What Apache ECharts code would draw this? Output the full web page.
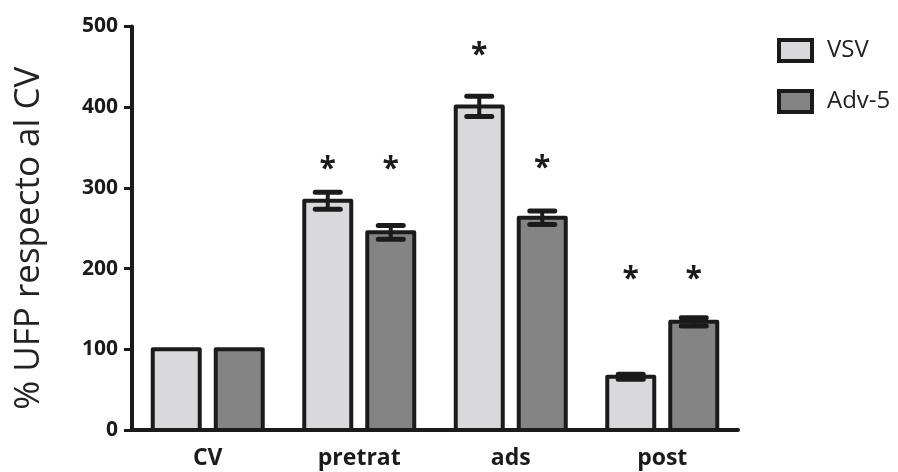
<!DOCTYPE html>
<html>
<head>
<meta charset="utf-8">
<script src="https://cdn.jsdelivr.net/npm/echarts@6/dist/echarts.min.js"></script>
<style>
  html, body { margin: 0; padding: 0; background: #fff; }
  #chart { width: 898px; height: 472px; }
</style>
</head>
<body>
<div id="chart"></div>
<script>
// Groups and measured values (% relative to CV)
const categories = ['CV', 'pretrat', 'ads', 'post'];
const vsvMean = [100, 284, 401, 66];
const vsvErr = [0, 10.5, 12.5, 3];
const advMean = [100, 245, 263, 134];
const advErr = [0, 8.5, 8.5, 5];
// Height (in % units) of the significance asterisks; null = no marker
const vsvSig = [null, 330, 471, 194];
const advSig = [null, 330, 331, 194];
const yTicks = [0, 100, 200, 300, 400, 500];

const ink = '#1b1b1b';
const font = '"Open Sans", "DejaVu Sans", sans-serif';
const vsvColor = '#d9d8da';
const advColor = '#848484';
const BAR_W = 47;      // bar body width; the 4px outline is centred on its edge
const PAIR_GAP = 16;   // space between the two bars of a group
const offset = (BAR_W + PAIR_GAP) / 2;

// Bars drawn with a centred outline so the stroke straddles the value line
function barSeries(name, means, color, dir) {
  return {
    type: 'custom',
    name: name,
    z: 2,
    encode: { x: 0, y: 1 },
    itemStyle: { color: color, borderColor: ink, borderWidth: 4 },
    data: means.map((m, i) => [i, m]),
    renderItem(params, api) {
      const i = api.value(0), m = api.value(1);
      const top = api.coord([i, m]);
      const base = api.coord([i, 0]);
      const cx = top[0] + dir * offset;
      return {
        type: 'rect',
        shape: { x: cx - BAR_W / 2, y: top[1], width: BAR_W, height: base[1] - top[1] },
        style: { fill: color, stroke: ink, lineWidth: 4, lineJoin: 'round' }
      };
    }
  };
}

function errorSeries(means, errs, dir) {
  return {
    type: 'custom',
    z: 5,
    silent: true,
    encode: { x: 0, y: 1 },
    data: means.map((m, i) => [i, m, errs[i]]),
    renderItem(params, api) {
      const i = api.value(0), m = api.value(1), e = api.value(2);
      if (!e) return;
      const x = api.coord([i, m])[0] + dir * offset;
      const yTop = api.coord([i, m + e])[1];
      const yBot = api.coord([i, m - e])[1];
      const half = 12.5;
      return {
        type: 'group',
        children: [
          { type: 'line', shape: { x1: x, y1: yTop, x2: x, y2: yBot },
            style: { stroke: ink, lineWidth: 4 } },
          { type: 'line', shape: { x1: x - half, y1: yTop, x2: x + half, y2: yTop },
            style: { stroke: ink, lineWidth: 5, lineCap: 'round' } },
          { type: 'line', shape: { x1: x - half, y1: yBot, x2: x + half, y2: yBot },
            style: { stroke: ink, lineWidth: 5, lineCap: 'round' } }
        ]
      };
    }
  };
}

function starSeries(levels, dir) {
  return {
    type: 'custom',
    z: 6,
    silent: true,
    encode: { x: 0, y: 1 },
    data: levels.map((v, i) => [i, v == null ? 0 : v, v == null ? 0 : 1]),
    renderItem(params, api) {
      if (!api.value(2)) return;
      const p = api.coord([api.value(0), api.value(1)]);
      return {
        type: 'text',
        x: p[0] + dir * offset,
        y: p[1] + 6,
        style: {
          text: '*', fill: ink, font: 'bold 30px ' + font,
          align: 'center', verticalAlign: 'middle'
        }
      };
    }
  };
}

const chart = echarts.init(document.getElementById('chart'), null, { renderer: 'canvas' });
chart.setOption({
  animation: false,
  backgroundColor: '#fff',
  grid: { left: 132, right: 160, top: 26.5, bottom: 42 },
  legend: {
    data: [
      { name: 'VSV', itemStyle: { color: vsvColor, borderColor: ink, borderWidth: 4 } },
      { name: 'Adv-5', itemStyle: { color: advColor, borderColor: ink, borderWidth: 4 } }
    ],
    orient: 'vertical',
    left: 772,
    top: 33,
    itemWidth: 33,
    itemHeight: 21,
    itemGap: 26,
    icon: 'rect',
    textStyle: { fontFamily: font, fontSize: 24, color: '#222', padding: [0, 0, 0, 10] }
  },
  xAxis: {
    type: 'category',
    data: categories,
    axisLine: { lineStyle: { color: ink, width: 4 } },
    axisTick: { alignWithLabel: true, length: 6, lineStyle: { color: ink, width: 3 } },
    axisLabel: { fontFamily: font, fontWeight: 'bold', fontSize: 23, color: '#1b1b1b', margin: 17 }
  },
  yAxis: {
    type: 'value',
    min: yTicks[0],
    max: yTicks[yTicks.length - 1],
    interval: 100,
    name: '% UFP respecto al CV',
    nameLocation: 'middle',
    nameRotate: 90,
    nameGap: 85,
    nameTextStyle: { fontFamily: font, fontSize: 35, color: '#222', padding: [0, 20, 0, 0] },
    splitLine: { show: false },
    axisLine: { show: true, lineStyle: { color: ink, width: 4 } },
    axisTick: { show: true, length: 8, lineStyle: { color: ink, width: 3 } },
    axisLabel: { fontFamily: font, fontWeight: 'bold', fontSize: 21, color: '#1b1b1b', margin: 14 }
  },
  series: [
    barSeries('VSV', vsvMean, vsvColor, -1),
    barSeries('Adv-5', advMean, advColor, 1),
    errorSeries(vsvMean, vsvErr, -1),
    errorSeries(advMean, advErr, 1),
    starSeries(vsvSig, -1),
    starSeries(advSig, 1)
  ]
});
</script>
</body>
</html>
